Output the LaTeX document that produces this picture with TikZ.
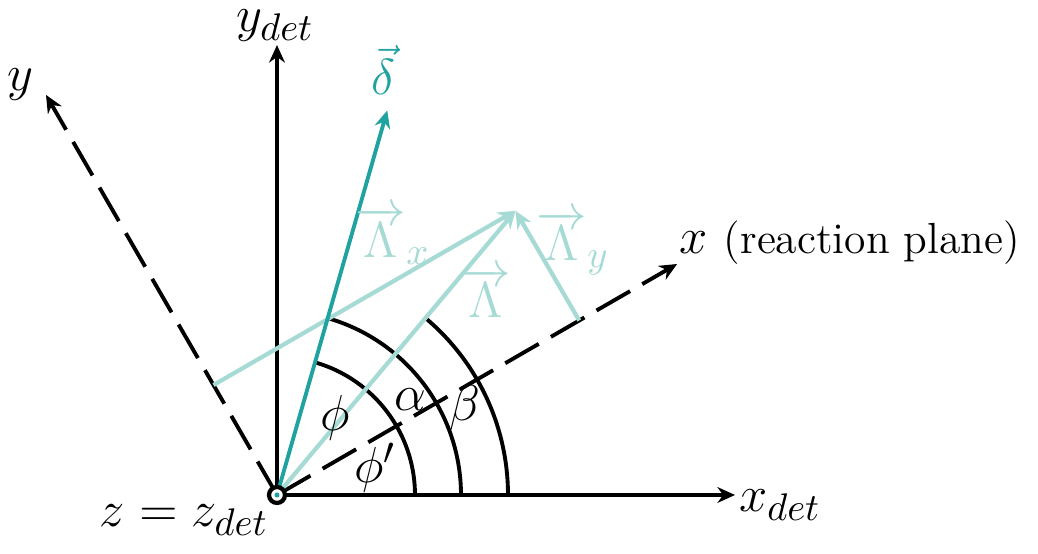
\documentclass[tikz,border=0pt]{standalone}
\usetikzlibrary{arrows.meta}
\definecolor{deltacol}{RGB}{32,162,160}
\definecolor{lamcol}{RGB}{166,218,212}
\tikzset{
  axis/.style={line width=1.1pt,-{Stealth[length=5pt,width=4.5pt]}},
  frameaxis/.style={axis,dash pattern=on 11pt off 4pt},
  lamvec/.style={lamcol,line width=1.2pt,-{Stealth[length=5pt,width=4.5pt]}},
  anglearc/.style={line width=1.1pt},
  lbl/.style={font=\fontsize{15.5}{18}\selectfont,inner sep=1pt}
}
\begin{document}
\begin{tikzpicture}[font=\fontsize{13}{16}\selectfont]
\useasboundingbox (-2.77,-0.59) rectangle (7.61,4.95);

\coordinate (O) at (0,0);
\coordinate (xdet) at (4.58,0);
\coordinate (ydet) at (0,4.50);
\coordinate (xrp) at (30:4.62);
\coordinate (yrp) at (120:4.62);
\coordinate (delta) at (74:4.0);
\coordinate (lam) at (50:3.71);
\coordinate (lamx0) at (120:1.27);
\coordinate (lamy0) at (30:3.49);

\draw[frameaxis] (O) -- (xrp);
\draw[frameaxis] (O) -- (yrp);
\draw[axis] (O) -- (xdet);
\draw[axis] (O) -- (ydet);

\draw[anglearc] (1.38,0) arc (0:74:1.38);
\draw[anglearc] (1.84,0) arc (0:74:1.84);
\draw[anglearc] (2.31,0) arc (0:50:2.31);

\draw[lamvec] (O) -- (lam);
\draw[lamvec] (lamx0) -- (lam);
\draw[lamvec] (lamy0) -- (lam);
\draw[deltacol,line width=1.1pt,-{Stealth[length=5pt,width=4.5pt]}] (O) -- (delta);

\draw[line width=1.2pt,fill=white] (O) circle (0.08);
\fill[deltacol] (O) circle (0.025);

\node[lbl,anchor=south,inner sep=0pt] (ydetlbl) at (-0.02,4.53) {$y_{det}$};
\node[lbl] (xdetlbl) at (5.03,-0.10) {$x_{det}$};
\node[lbl] (zlbl) at (-0.93,-0.25) {$z=z_{det}$};
\node[lbl] (ylbl) at (-2.57,4.10) {$y$};
\node[lbl,anchor=west] (xlbl) at (3.98,2.52) {$x$\ \fontsize{12.4}{15}\selectfont(reaction plane)};
\node[lbl,deltacol] (deltalbl) at (1.06,4.25) {$\vec{\delta}$};
\node[lbl,lamcol] (lamxlbl) at (1.16,2.59) {$\overrightarrow{\Lambda}_x$};
\node[lbl,lamcol] (lamylbl) at (2.96,2.52) {$\overrightarrow{\Lambda}_y$};
\node[lbl,lamcol] (lamlbl) at (2.09,2.02) {$\overrightarrow{\Lambda}$};
\node[lbl] (philbl) at (0.58,0.77) {$\phi$};
\node[lbl] (alphalbl) at (1.33,0.95) {$\alpha$};
\node[lbl] (betalbl) at (1.88,0.87) {$\beta$};
\node[lbl] (phiplbl) at (0.98,0.27) {$\phi'$};
\end{tikzpicture}
\end{document}
